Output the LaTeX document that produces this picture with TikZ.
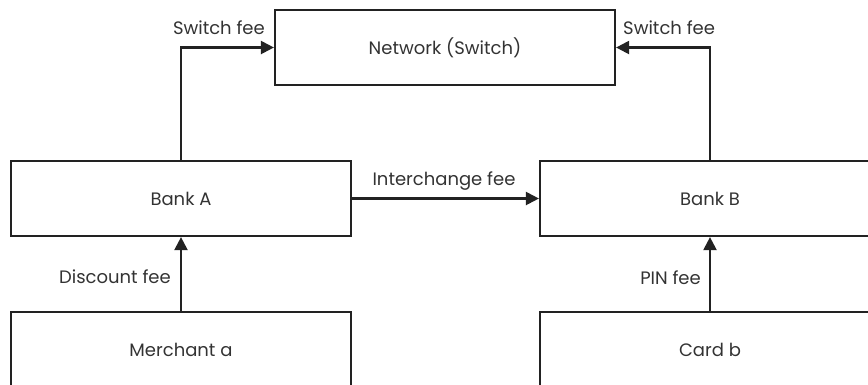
\documentclass[tikz,border=0pt]{standalone}
\usepackage{fontspec}
\setmainfont{Poppins}
\usetikzlibrary{arrows.meta}
\definecolor{ink}{HTML}{222222}
\definecolor{txt}{HTML}{333333}
\tikzset{
  box/.style={draw=ink, line width=2.2pt, minimum width=340pt, minimum height=75pt, inner sep=0pt, text=txt, font=\fontsize{18}{21}\selectfont},
  flow/.style={draw=ink, line width=2.2pt, -{Triangle[length=13pt,width=13pt]}},
  lbl/.style={text=txt, font=\fontsize{18}{21}\selectfont, inner sep=0pt}
}
\begin{document}
\begin{tikzpicture}[x=1pt,y=-1pt]
\useasboundingbox (0,0) rectangle (868,384);
\clip (0,0) rectangle (868,384);
\node[box] (net) at (445,47.5) {Network (Switch)};
\node[box] (bankA) at (181,198.5) {Bank A};
\node[box] (bankB) at (710,198.5) {Bank B};
\node[box] (merch) at (181,349.5) {Merchant a};
\node[box] (card) at (710,349.5) {Card b};
\draw[flow] (bankA.north) |- (net.west);
\draw[flow] (bankB.north) |- (net.east);
\draw[flow] (bankA.east) -- (bankB.west);
\draw[flow] (merch.north) -- (bankA.south);
\draw[flow] (card.north) -- (bankB.south);
\node[lbl, anchor=east] (l1) at (265,28) {Switch fee};
\node[lbl, anchor=west] (l2) at (623,28) {Switch fee};
\node[lbl] (l3) at (444,181) {Interchange fee};
\node[lbl, anchor=east] (l4) at (171,277) {Discount fee};
\node[lbl, anchor=east] (l5) at (701,278) {PIN fee};
\end{tikzpicture}
\end{document}
